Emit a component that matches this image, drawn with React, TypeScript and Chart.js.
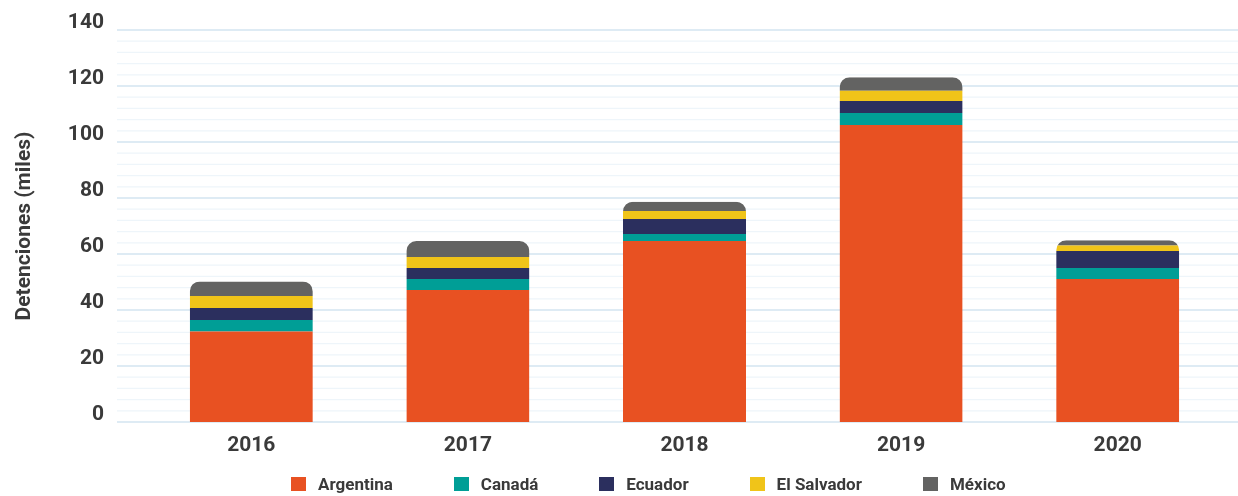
import React, { useEffect, useRef } from 'react';
import { Chart, registerables } from 'chart.js';

Chart.register(...registerables);

// ---- Data ----
const years = ['2016', '2017', '2018', '2019', '2020'];
const argentina = [32.3, 47.1, 64.6, 106.1, 51.1];
const canada = [4.1, 4.0, 2.5, 4.3, 3.9];
const ecuador = [4.3, 3.9, 5.4, 4.2, 6.1];
const elSalvador = [4.3, 3.9, 2.9, 3.7, 1.9];
const mexico = [5.2, 5.7, 3.3, 4.8, 1.9];
const seriesNames = ['Argentina', 'Canadá', 'Ecuador', 'El Salvador', 'México'];
const seriesValues = [argentina, canada, ecuador, elSalvador, mexico];
const seriesColors = ['#E85122', '#009E96', '#2B2F5E', '#F0C419', '#636362'];
const yMin = 0;
const yMax = 140;
const yStep = 4;
const yLabelEvery = 20;
const yTitle = 'Detenciones (miles)';

const TEXT = '#3a3a3a';
const FONT = 'Roboto';

const gridAndClipPlugin = {
  id: 'gridAndClip',
  beforeDatasetsDraw(chart: any) {
    const { ctx, chartArea, scales } = chart;
    const y = scales.y;
    const x0 = chartArea.left - 26;
    const x1 = chart.width;
    ctx.save();
    const drawLines = (major: boolean) => {
      y.ticks.forEach((t: any) => {
        const isMajor = t.value % yLabelEvery === 0;
        if (isMajor !== major) return;
        const py = y.getPixelForValue(t.value);
        ctx.beginPath();
        ctx.strokeStyle = major ? '#d3e5f0' : '#eef5fa';
        ctx.lineWidth = major ? 1.6 : 1.3;
        ctx.moveTo(x0, py);
        ctx.lineTo(x1, py);
        ctx.stroke();
      });
    };
    drawLines(false);
    drawLines(true);
    ctx.restore();

    // clip stacks to a rounded-top shape
    ctx.save();
    ctx.beginPath();
    const n = chart.data.datasets.length;
    const first = chart.getDatasetMeta(0);
    first.data.forEach((bar: any, i: number) => {
      let top = Infinity;
      for (let d = 0; d < n; d++) {
        const el = chart.getDatasetMeta(d).data[i];
        if (el) top = Math.min(top, el.y);
      }
      const base = bar.base;
      const w = bar.width;
      ctx.roundRect(bar.x - w / 2, top, w, base - top + 1, [10, 10, 0, 0]);
    });
    ctx.clip();
  },
  afterDatasetsDraw(chart: any) {
    chart.ctx.restore();
  },
};

export default function App() {
  const canvasRef = useRef<HTMLCanvasElement | null>(null);

  useEffect(() => {
    if (!canvasRef.current) return;
    const chart = new Chart(canvasRef.current, {
      type: 'bar',
      data: {
        labels: years,
        datasets: seriesNames.map((name, i) => ({
          label: name,
          data: seriesValues[i],
          backgroundColor: seriesColors[i],
          borderWidth: 0,
          barPercentage: 0.568,
          categoryPercentage: 1,
        })),
      },
      options: {
        animation: false,
        responsive: true,
        maintainAspectRatio: false,
        layout: { padding: { top: 30, right: 12, left: 0, bottom: 0 } },
        plugins: {
          legend: { display: false },
          tooltip: { enabled: false },
        },
        scales: {
          x: {
            stacked: true,
            grid: { display: false, drawTicks: false },
            border: { display: false },
            ticks: {
              color: TEXT,
              padding: 11,
              font: { family: FONT, size: 21, weight: 'bold' },
            },
            afterFit: (s: any) => {
              s.height = 74;
            },
          },
          y: {
            stacked: true,
            min: yMin,
            max: yMax,
            grid: { display: false, drawTicks: false },
            border: { display: false },
            ticks: {
              stepSize: yStep,
              autoSkip: false,
              color: TEXT,
              padding: 39,
              labelOffset: -7,
              font: { family: FONT, size: 21, weight: 'bold' },
              callback: (v: any) => (Number(v) % yLabelEvery === 0 ? String(v) : ''),
            },
            title: {
              display: true,
              text: yTitle,
              color: TEXT,
              font: { family: FONT, size: 21, weight: 'bold' },
              padding: { top: 12, bottom: 0 },
            },
            afterFit: (s: any) => {
              s.width = 143;
              s.paddingTop = 0;
              s.paddingBottom = 0;
            },
          },
        },
      },
      plugins: [gridAndClipPlugin],
    } as any);
    return () => chart.destroy();
  }, []);

  return (
    <div style={{ position: 'fixed', left: 0, top: 0, width: 1238, height: 496, background: '#fff' }}>
      <canvas ref={canvasRef} />
      <div
        style={{
          position: 'absolute',
          left: 291,
          top: 476,
          display: 'flex',
          alignItems: 'center',
          fontFamily: FONT,
          fontWeight: 700,
          fontSize: 17,
          color: TEXT,
          lineHeight: '16px',
          whiteSpace: 'nowrap',
        }}
      >
        {seriesNames.map((n, i) => (
          <div key={n} style={{ display: 'flex', alignItems: 'center', marginRight: 61 }}>
            <span
              style={{ width: 15, height: 14, background: seriesColors[i], marginRight: 12, display: 'inline-block' }}
            />
            <span>{n}</span>
          </div>
        ))}
      </div>
    </div>
  );
}
